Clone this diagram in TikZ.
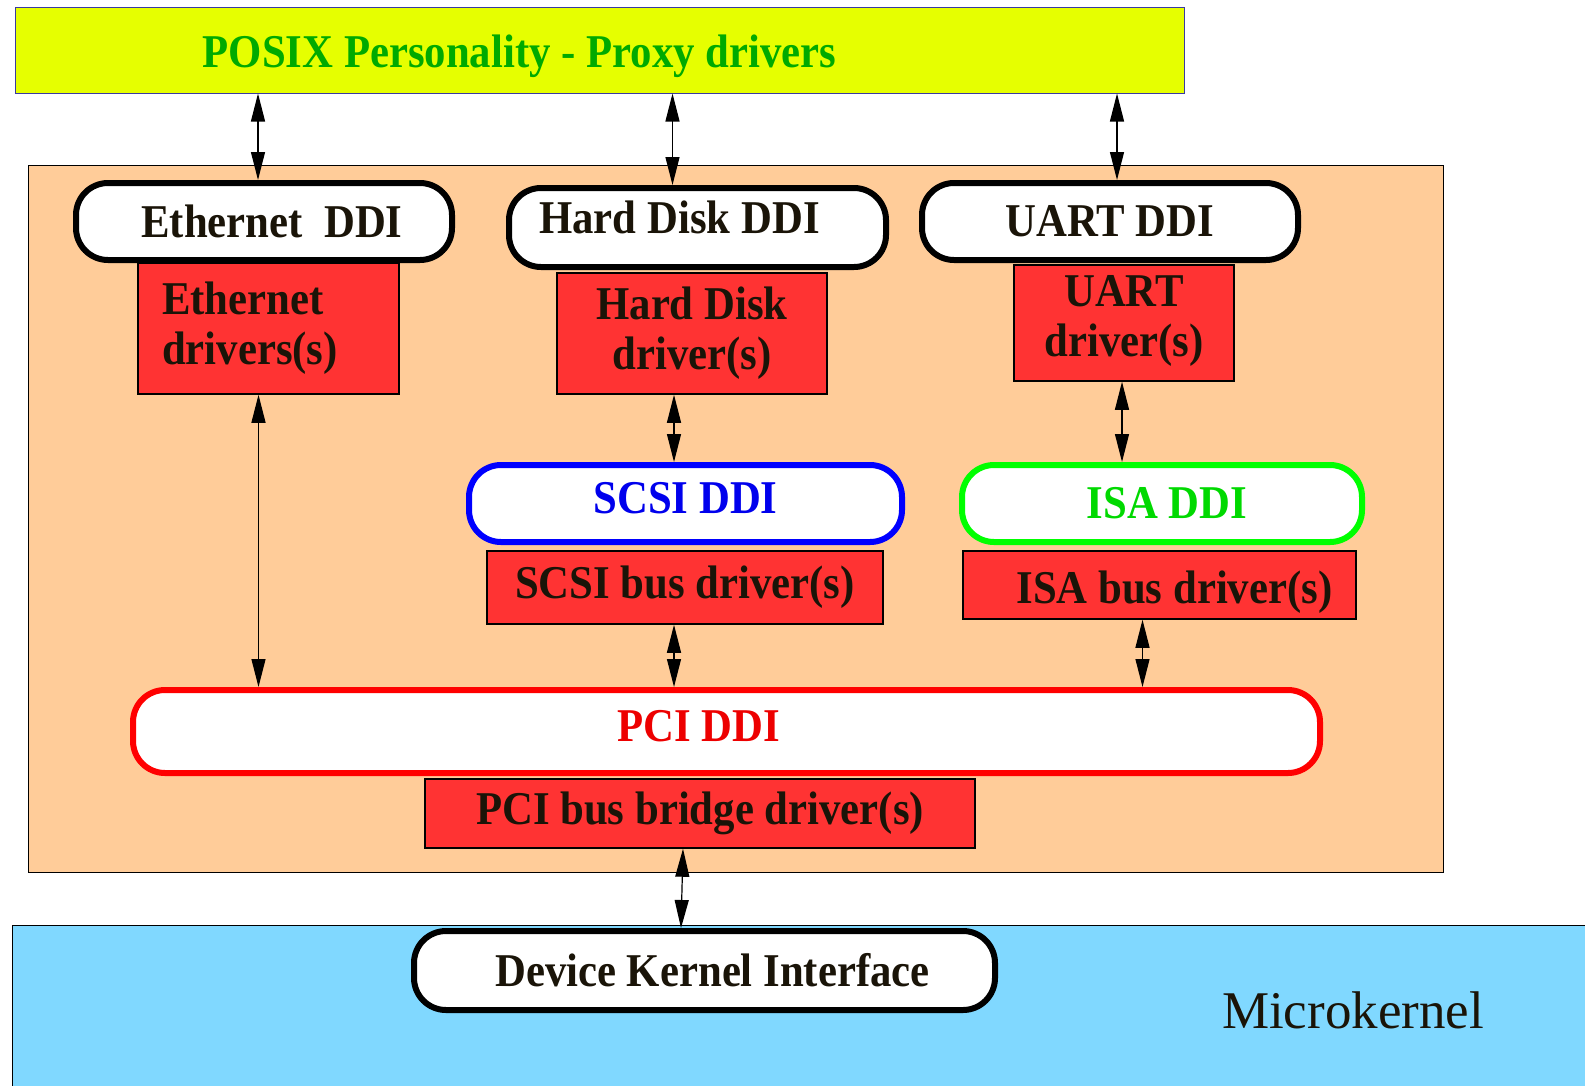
\documentclass[tikz,border=0pt]{standalone}
\usepackage{fontspec}
\setmainfont{Liberation Serif}
\newfontfamily\labfont{Liberation Serif}[FakeStretch=0.91]
\usepackage{xcolor}
\usetikzlibrary{arrows.meta}

\definecolor{posixbg}{HTML}{E6FF00}
\definecolor{posixline}{HTML}{3A3AA0}
\definecolor{posixtext}{HTML}{00AA00}
\definecolor{panelbg}{HTML}{FFCC99}
\definecolor{drvred}{HTML}{FF3333}
\definecolor{kernelbg}{HTML}{80D8FF}
\definecolor{ink}{HTML}{1A1408}

\begin{document}
\begin{tikzpicture}[x=1pt, y=-1pt,
    every node/.style={font=\labfont\bfseries\fontsize{47}{50}\selectfont, text=ink},
    ddi/.style={draw=black, line width=6pt, fill=white, rounded corners=32pt},
    drv/.style={draw=black, line width=1.5pt, fill=drvred, align=center},
    link/.style={line width=1.2pt, {Triangle[length=28pt,width=14pt]}-{Triangle[length=28pt,width=14pt]}}]
    \useasboundingbox (0,0) rectangle (1585,1085);

    % layers
    \node[draw=posixline, line width=1pt, fill=posixbg, minimum width=1169, minimum height=86, text=posixtext] (posix) at (599.5,50) {\raisebox{-6pt}[\height][\depth]{POSIX Personality - Proxy drivers}\hspace{160pt}\null};
    \node[draw=black, line width=1pt, fill=panelbg, minimum width=1415, minimum height=707] (panel) at (735.5,518.5) {};
    \node[draw=black, line width=1pt, fill=kernelbg, minimum width=1578, minimum height=165] (kernel) at (801,1007.5) {};
    \node[font=\fontsize{53}{56}\selectfont] (micro) at (1353,1010) {Microkernel};

    % DDIs and drivers
    \node[ddi, minimum width=376, minimum height=77] (eddi) at (264,221.5) {\hspace{16pt}Ethernet~~DDI};
    \node[drv, minimum width=261, minimum height=131, align=left, text width=213, inner xsep=24pt] (edrv) at (268.5,328.5) {Ethernet\\drivers(s)};
    \node[ddi, minimum width=377, minimum height=79] (hddi) at (697.5,227.5) {\raisebox{10pt}[\height][\depth]{Hard Disk DDI}\hspace{36pt}\null};
    \node[drv, minimum width=270, minimum height=121] (hdrv) at (692,333.5) {Hard Disk\\driver(s)};
    \node[ddi, minimum width=376, minimum height=77] (uddi) at (1110,221.5) {UART DDI};
    \node[drv, minimum width=220, minimum height=116] (udrv) at (1124,323) {\raisebox{2pt}[\height][\depth]{UART}\\\raisebox{2pt}[\height][\depth]{driver(s)}};
    \node[ddi, draw=blue, minimum width=433, minimum height=77, text=blue!93!black] (scsi) at (685.5,503.5) {\raisebox{5pt}[\height][\depth]{SCSI DDI}};
    \node[drv, minimum width=396, minimum height=73] (sdrv) at (685,587.5) {SCSI bus driver(s)};
    \node[ddi, draw=green, minimum width=400, minimum height=77, text=green!85!black] (isa) at (1162,503.5) {\hspace{10pt}ISA DDI};
    \node[drv, minimum width=393, minimum height=68] (idrv) at (1159.5,585) {\raisebox{-7pt}[\height][\depth]{\hspace{30pt}ISA bus driver(s)}};
    \node[ddi, draw=red, minimum width=1187, minimum height=83, text=red!93!black] (pci) at (726.5,731.5) {\raisebox{5pt}[\height][\depth]{PCI DDI}\hspace{56pt}\null};
    \node[drv, minimum width=550, minimum height=69] (bdrv) at (700,813.5) {PCI bus bridge driver(s)};
    \node[ddi, minimum width=581, minimum height=79] (dki) at (704.5,970.5) {\hspace{16pt}Device Kernel Interface};

    % connections
    \draw[link] ([xshift=-6pt]eddi.north |- posix.south) -- ([xshift=-6pt]eddi.north);
    \draw[link] ([xshift=-25pt]hddi.north |- posix.south) -- ([xshift=-25pt]hddi.north);
    \draw[link] ([xshift=7pt]uddi.north |- posix.south) -- ([xshift=7pt]uddi.north);
    \draw[link] ([xshift=-10pt]edrv.south) -- ([xshift=-10pt]edrv.south |- pci.north);
    \draw[link] ([xshift=-18pt]hdrv.south) -- ([xshift=-18pt]hdrv.south |- scsi.north);
    \draw[link] ([xshift=-2pt]udrv.south) -- ([xshift=-2pt]udrv.south |- isa.north);
    \draw[link] ([xshift=-11pt]sdrv.south) -- ([xshift=-11pt]sdrv.south |- pci.north);
    \draw[link] ([xshift=-17pt]idrv.south) -- ([xshift=-17pt]idrv.south |- pci.north);
    \draw[link] ([xshift=-17pt]bdrv.south) -- ([xshift=-23.5pt]dki.north);
\end{tikzpicture}
\end{document}
